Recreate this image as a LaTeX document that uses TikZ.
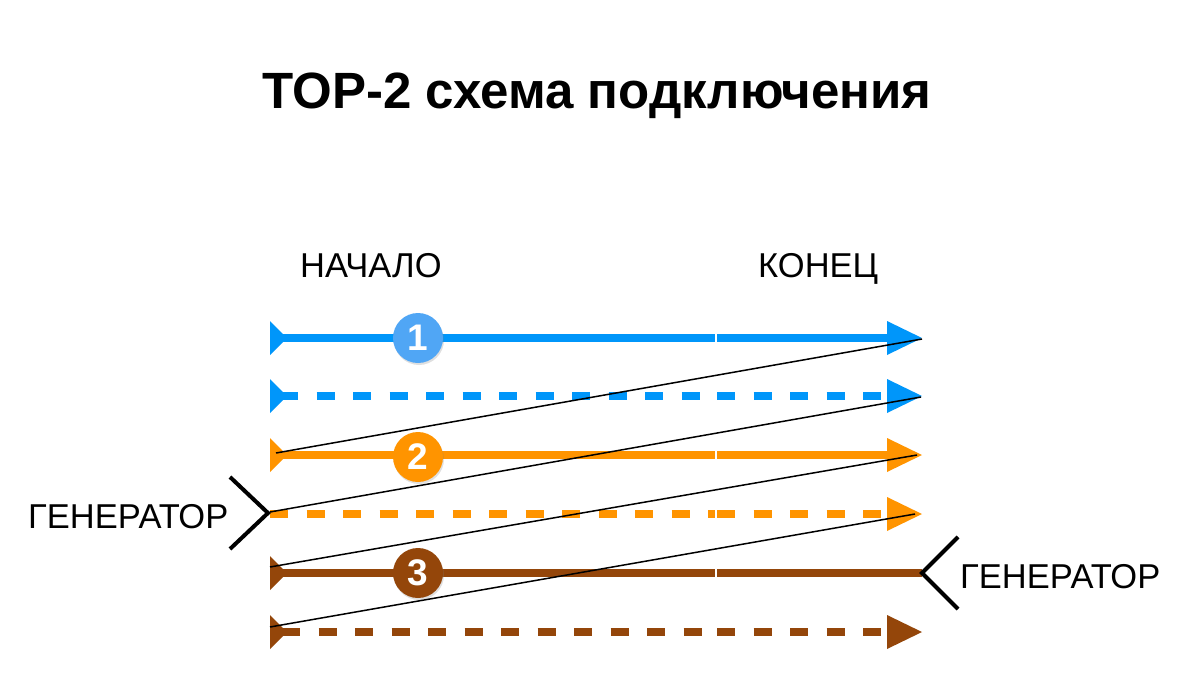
\documentclass[tikz,border=0pt]{standalone}
\usepackage{fontspec}
\setmainfont{Liberation Sans}
\usetikzlibrary{shadows}
\definecolor{lineblue}{RGB}{0,150,250}
\definecolor{ballblue}{RGB}{80,166,245}
\definecolor{lineorange}{RGB}{255,148,0}
\definecolor{linebrown}{RGB}{148,70,10}
\begin{document}
\begin{tikzpicture}[x=1pt, y=-1pt,
  wire/.style={line width=8pt},
  dashwire/.style={line width=8pt, dash pattern=on 18pt off 18.5pt},
  ball/.style={circle, minimum size=50pt, inner sep=0pt, text=white,
    font=\fontsize{37}{37}\selectfont\bfseries,
    drop shadow={opacity=0.25, shadow xshift=1pt, shadow yshift=-2pt}},
  lbl/.style={font=\fontsize{34.5}{34.5}\selectfont, inner sep=0pt},
  gen/.style={line width=4pt}]
\useasboundingbox (0,0) rectangle (1195,699);
% title and labels
\node[font=\fontsize{51}{51}\selectfont\bfseries, anchor=base] (title) at (597,108) {TOP-2 схема подключения};
\node[lbl, anchor=base west] (begin) at (300,277) {НАЧАЛО};
\node[lbl, anchor=base west] (finish) at (758,277) {КОНЕЦ};
\node[lbl, anchor=base west] (genleft) at (28,528) {ГЕНЕРАТОР};
\node[lbl, anchor=base west] (genright) at (960,588) {ГЕНЕРАТОР};
% row 1
\draw[wire, lineblue] (280,338) -- (715,338);
\draw[wire, lineblue] (717,338) -- (888,338);
\fill[lineblue] (270,321) -- (287,338) -- (270,355) -- cycle;
\fill[lineblue] (887,321) -- (922,338) -- (887,355) -- cycle;
% row 2
\draw[dashwire, lineblue] (280,396) -- (715,396);
\draw[dashwire, lineblue] (717,396) -- (887,396);
\fill[lineblue] (270,379) -- (287,396) -- (270,413) -- cycle;
\fill[lineblue] (887,379) -- (922,396) -- (887,413) -- cycle;
% row 3
\draw[wire, lineorange] (280,455) -- (715,455);
\draw[wire, lineorange] (717,455) -- (888,455);
\fill[lineorange] (270,438) -- (287,455) -- (270,472) -- cycle;
\fill[lineorange] (887,438) -- (922,455) -- (887,472) -- cycle;
% row 4
\draw[dashwire, lineorange] (270,514) -- (715,514);
\draw[dashwire, lineorange] (717,514) -- (887,514);
\fill[lineorange] (887,497) -- (922,514) -- (887,531) -- cycle;
% row 5
\draw[wire, linebrown] (280,573) -- (715,573);
\draw[wire, linebrown] (717,573) -- (922,573);
\fill[linebrown] (270,556) -- (287,573) -- (270,590) -- cycle;
% row 6
\draw[dashwire, linebrown] (282,632) -- (715,632);
\draw[dashwire, linebrown] (717,632) -- (887,632);
\fill[linebrown] (270,615) -- (287,632) -- (270,649) -- cycle;
\fill[linebrown] (887,615) -- (922,632) -- (887,649) -- cycle;
% generators
\draw[gen] (230,477) -- (268,513) -- (230,549);
\draw[gen] (958,537) -- (922,573) -- (958,609);
% crossing wires
\coordinate (a1) at (276,453);
\coordinate (a2) at (922,339);
\coordinate (b1) at (270,512);
\coordinate (b2) at (921,397);
\coordinate (c1) at (270,567);
\coordinate (c2) at (917,455);
\coordinate (d1) at (270,627);
\coordinate (d2) at (915,514);
\draw[line width=1.5pt] (a1) -- (a2);
\draw[line width=1.5pt] (b1) -- (b2);
\draw[line width=1.5pt] (c1) -- (c2);
\draw[line width=1.5pt] (d1) -- (d2);
% numbers
\node[ball, fill=ballblue] (one) at (418,338) {1};
\node[ball, fill=lineorange] (two) at (418,457) {2};
\node[ball, fill=linebrown] (three) at (418,573) {3};
\end{tikzpicture}
\end{document}
